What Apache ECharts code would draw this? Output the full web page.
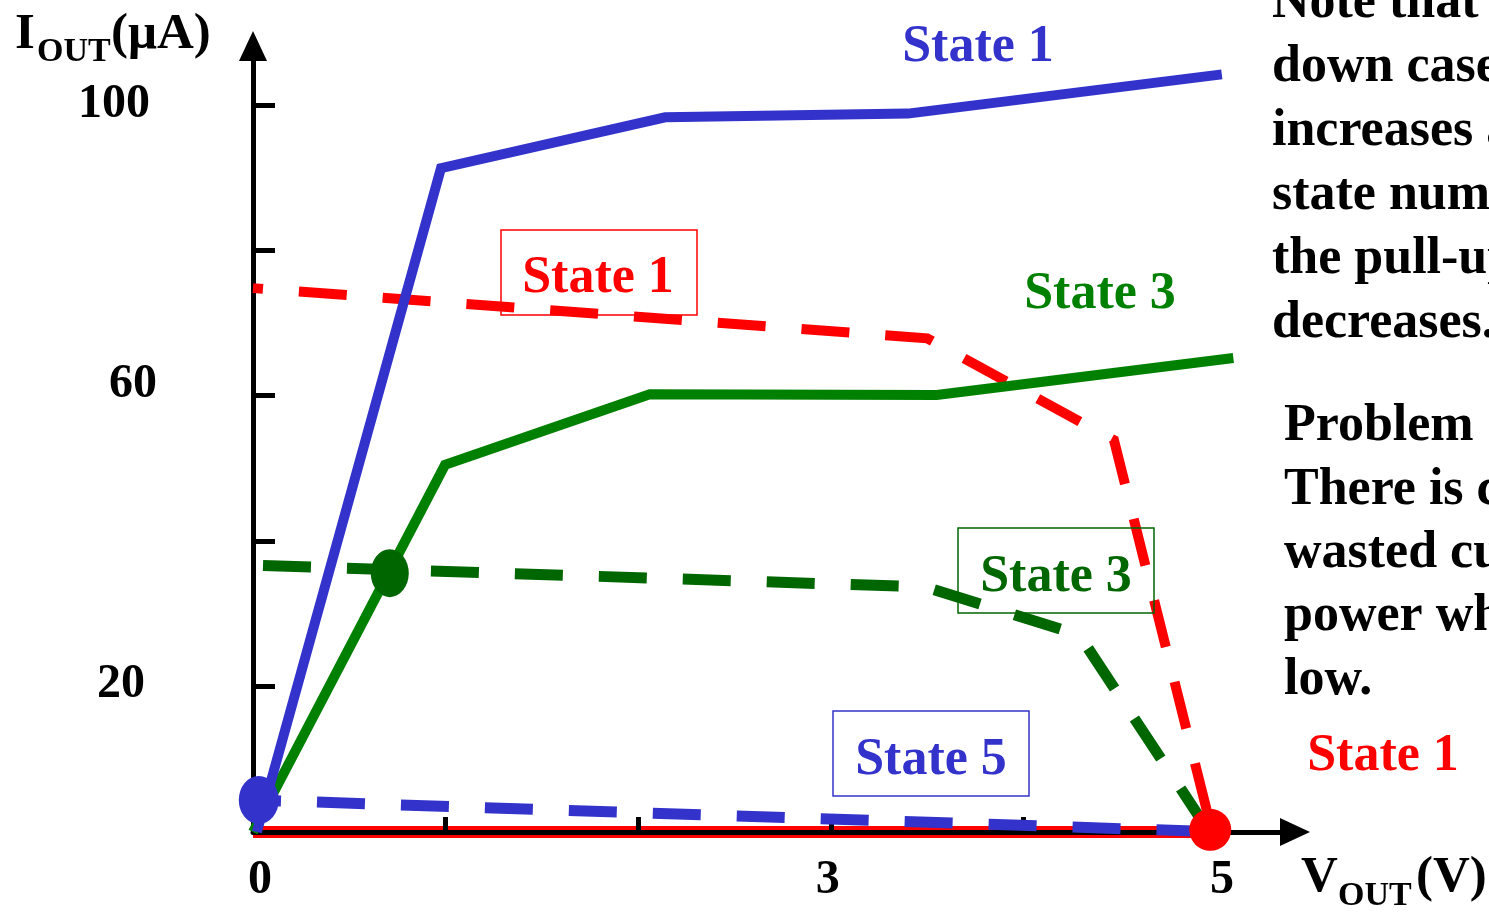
<!DOCTYPE html>
<html>
<head>
<meta charset="utf-8">
<script src="https://cdn.jsdelivr.net/npm/echarts@6/dist/echarts.min.js"></script>
<style>
  html, body { margin: 0; padding: 0; background: #fff; }
  #chart { width: 1489px; height: 913px; }
</style>
</head>
<body>
<div id="chart"></div>
<script>
// curves, [V_OUT (V), I_OUT (uA)]
const pullUpState1 = [[0.02, 0], [0.976, 91.3], [2.14, 98.3], [3.40, 98.8], [5.03, 104.2]];
const pullUpState3 = [[0, 0], [0.997, 50.5], [2.06, 60.2], [3.55, 60.1], [5.09, 65.2]];
const pullDownState1 = [[0, 74.8], [3.50, 67.9], [4.47, 53.9], [4.98, 0]];
const pullDownState3 = [[0, 36.7], [3.49, 33.7], [4.29, 27.1], [4.96, 0.2]];
const pullDownState5 = [[0, 4.4], [4.92, 0.1]];
const floorState1 = [[0, 0], [4.97, 0]];
const blueDot = [[0.03, 4.4]];
const greenDot = [[0.71, 35.6]];
const redDot = [[4.97, 0.3]];

const xTicks = [1, 2, 3, 4, 5];
const xLabels = [0, 3, 5];
const yTicks = [20, 40, 60, 80, 100];
const yLabels = [20, 60, 100];

const noteLines = ['Note that the', 'down case', 'increases as', 'state number', 'the pull-up', 'decreases.'];
const problemLines = ['Problem', 'There is constant', 'wasted current and', 'power when output', 'low.'];

const BLUE = '#3333CC';
const GREEN = '#008000';
const DKGREEN = '#006600';
const RED = '#FF0000';
const FONT = '"Liberation Serif", "Times New Roman", serif';

function txt(x, y, text, color, size, align) {
  return {
    type: 'text', x, y: y + 5, z: 10,
    style: {
      text, fill: color, font: `bold ${size}px ${FONT}`,
      align: align || 'center', verticalAlign: 'middle'
    }
  };
}

function box(x, y, w, h, color) {
  return {
    type: 'rect', z: 9,
    shape: { x, y, width: w, height: h },
    style: { fill: 'rgba(255,255,255,0)', stroke: color, lineWidth: 1.5 }
  };
}

const graphics = [
  txt(15, 30, 'I', '#000', 51, 'left'),
  txt(37, 47, 'OUT', '#000', 34, 'left'),
  txt(111, 30, '(μA)', '#000', 51, 'left'),
  txt(1301, 873, 'V', '#000', 51, 'left'),
  txt(1338, 891, 'OUT', '#000', 34, 'left'),
  txt(1416, 873, '(V)', '#000', 51, 'left'),

  txt(978, 43, 'State 1', BLUE, 52),
  box(501, 230, 196, 85, RED),
  txt(598, 274, 'State 1', RED, 52),
  txt(1100, 290, 'State 3', GREEN, 52),
  box(958, 528, 196, 85, DKGREEN),
  txt(1056, 573, 'State 3', DKGREEN, 52),
  box(833, 711, 196, 85, BLUE),
  txt(931, 756, 'State 5', BLUE, 52),
  txt(1383, 752, 'State 1', RED, 52)
];
noteLines.forEach((line, i) => graphics.push(txt(1272, -1 + i * 64, line, '#000', 52, 'left')));
problemLines.forEach((line, i) => graphics.push(txt(1284, 422 + i * 63.3, line, '#000', 52, 'left')));

function lineSeries(data, color, width, dash, offset, z) {
  return {
    type: 'line', data, z, symbol: 'none', silent: true,
    lineStyle: { color, width, type: dash || 'solid', dashOffset: offset || 0, cap: 'butt', join: 'miter' }
  };
}

function dotSeries(data, color, size, z) {
  return {
    type: 'scatter', data, z, symbol: 'circle', symbolSize: size, silent: true,
    itemStyle: { color, opacity: 1 }
  };
}

const labelStyle = { color: '#000', fontSize: 48, fontWeight: 'bold', fontFamily: FONT };

const chart = echarts.init(document.getElementById('chart'));
chart.setOption({
  animation: false,
  backgroundColor: '#fff',
  grid: { left: 253, top: 46, width: 1042, height: 786 },
  xAxis: {
    type: 'value', min: 0, max: 5.41, interval: 1, z: 2,
    splitLine: { show: false },
    axisLine: { show: true, symbol: ['none', 'triangle'], symbolSize: [28, 30], lineStyle: { color: '#000', width: 5 } },
    axisTick: { show: true, inside: true, length: 15, customValues: xTicks, lineStyle: { color: '#000', width: 5 } },
    axisLabel: {
      customValues: xLabels, margin: 25, ...labelStyle,
      formatter: v => `{x${v}|${v}}`,
      rich: {
        x0: { ...labelStyle, padding: [0, 0, 0, 14] },
        x3: { ...labelStyle, padding: [0, 6, 0, 0] },
        x5: { ...labelStyle, padding: [0, 0, 0, 12] }
      }
    }
  },
  yAxis: {
    type: 'value', min: 0, max: 108.1, interval: 20, z: 2,
    splitLine: { show: false },
    axisLine: { show: true, symbol: ['none', 'triangle'], symbolSize: [28, 30], lineStyle: { color: '#000', width: 5 } },
    axisTick: { show: true, inside: true, length: 22, customValues: yTicks, lineStyle: { color: '#000', width: 5 } },
    axisLabel: {
      customValues: yLabels, margin: 96, ...labelStyle,
      formatter: v => `{y${v}|${v}}`,
      rich: {
        y100: { ...labelStyle, padding: [0, 7, 0, 0] },
        y60: { ...labelStyle, padding: [0, 0, 22, 0] },
        y20: { ...labelStyle, padding: [0, 12, 4, 0] }
      }
    }
  },
  series: [
    lineSeries(floorState1, RED, 12, 'solid', 0, 1),
    lineSeries(pullDownState1, RED, 10, [48, 36], 38, 3),
    lineSeries(pullDownState3, DKGREEN, 11, [48, 36], 74, 3),
    lineSeries(pullUpState3, GREEN, 10, 'solid', 0, 4),
    lineSeries(pullUpState1, BLUE, 10, 'solid', 0, 4),
    lineSeries(pullDownState5, BLUE, 11, [48, 36], 20, 4),
    dotSeries(blueDot, BLUE, [40, 48], 5),
    dotSeries(greenDot, DKGREEN, [38, 48], 5),
    dotSeries(redDot, RED, [42, 42], 5)
  ],
  graphic: graphics
});
</script>
</body>
</html>
